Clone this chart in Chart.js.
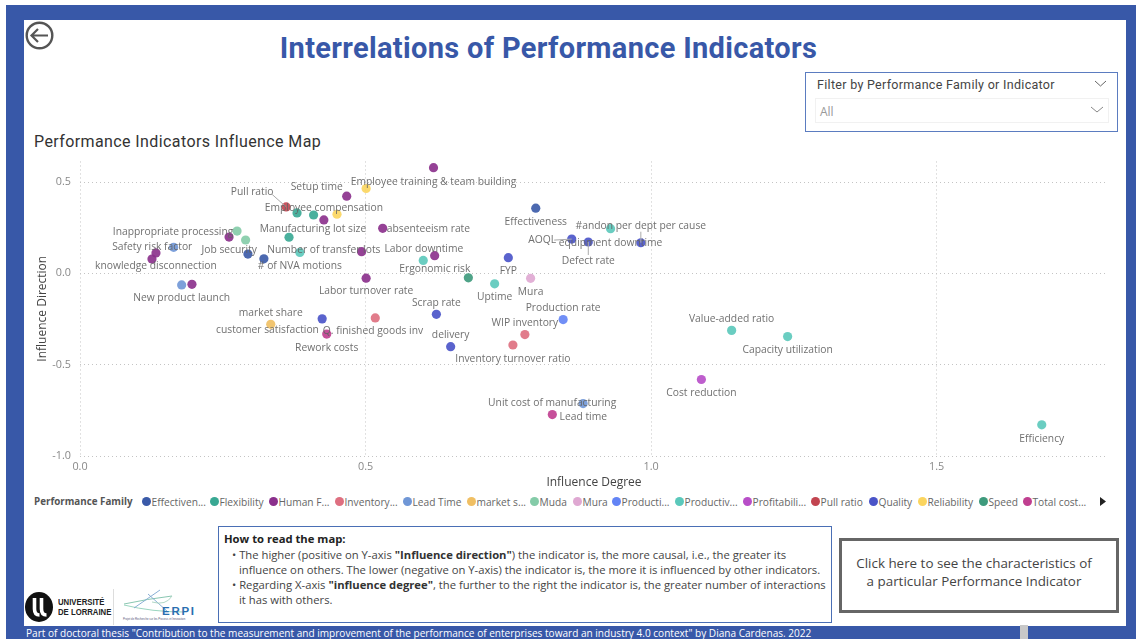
<!DOCTYPE html>
<html><head><meta charset="utf-8">
<script src="https://cdn.jsdelivr.net/npm/chart.js@4"></script>
<style>
html,body{margin:0;padding:0;background:#fff;overflow:hidden}
#page{position:relative;width:1136px;height:639px;overflow:hidden;font-family:"Open Sans",sans-serif}
.abs{position:absolute;white-space:nowrap}
#frame{left:6px;top:5px;width:1130px;height:634px;background:#3858a8}
#inner{left:24px;top:20px;width:1102px;height:606px;background:#fff}
#title{left:0;width:1097px;top:31px;text-align:center;font:700 29px Roboto,sans-serif;color:#3858a8;letter-spacing:.33px}
#sub{left:34px;top:132px;font:400 16px Roboto,sans-serif;color:#333;letter-spacing:.4px}
#filter{left:805px;top:72px;width:311px;height:58px;border:1px solid #5b7cc0}
#ftitle{left:817px;top:77px;font:400 12.5px Roboto,sans-serif;color:#444;letter-spacing:.3px}
#fin{left:815px;top:98px;width:292px;height:23px;border:1px solid #f1f1f1}
#fall{left:820px;top:103px;font:12px "Open Sans",sans-serif;color:#999}
#chartBox{left:24px;top:146px;width:1094px;height:345px}
#legendTitle{left:34px;top:495px;font:700 9.8px "Open Sans",sans-serif;color:#555}
.dot{position:absolute;width:9px;height:9px;border-radius:50%;top:497px}
.lt{position:absolute;top:495px;font:10.2px "Open Sans",sans-serif;color:#666;white-space:nowrap}
#how{left:218px;top:526px;width:612px;height:95px;border:1px solid #4a6fb5;box-sizing:content-box}
.hl{position:absolute;font:11.25px "Open Sans",sans-serif;color:#444;white-space:nowrap;line-height:15px}
.hl b{color:#333}
#click{left:839px;top:538px;width:264px;height:69px;border:3px solid #666;padding-right:10px;text-align:center;font:13.4px/18px "Open Sans",sans-serif;color:#444}
#foot{left:26px;top:626px;font:10.07px/14px "Open Sans",sans-serif;color:#fff}
#scroll{left:1020px;top:625px;width:8px;height:14px;background:#c8c8c8}
#ulsep{left:113px;top:589px;width:1px;height:36px;background:#ddd}
#ult{left:58px;top:598px;font:700 9px/9.5px "Liberation Sans",sans-serif;color:#222;transform:scaleX(.86);transform-origin:left top}
</style></head>
<body><div id="page">
<div class="abs" id="frame"></div><div class="abs" id="inner"></div>
<svg class="abs" style="left:24px;top:20px" width="32" height="32" viewBox="0 0 32 32"><circle cx="15.5" cy="15.5" r="12.8" fill="none" stroke="#555" stroke-width="2.4"/><path d="M24 15.5H8M14 9l-6.500 6.500L14 22" fill="none" stroke="#555" stroke-width="2.2"/></svg>
<div class="abs" id="title">Interrelations of Performance Indicators</div>
<div class="abs" id="filter"></div>
<div class="abs" id="ftitle">Filter by Performance Family or Indicator</div>
<div class="abs" id="fin"></div><div class="abs" id="fall">All</div>
<svg class="abs" style="left:1090px;top:78px" width="24" height="40"><path d="M5 3l5.500 5 5.500-5" fill="none" stroke="#666"/><path d="M1 29l6 5 6-5" fill="none" stroke="#888"/></svg>
<div class="abs" id="sub">Performance Indicators Influence Map</div>
<div class="abs" id="chartBox"><canvas id="c" width="1094" height="345"></canvas></div>
<div class="abs" id="legendTitle">Performance Family</div>
<div id="legend"></div>
<svg class="abs" style="left:1099px;top:497px" width="8" height="10"><path d="M1 0l6 4.500-6 4.500z" fill="#222"/></svg>
<div class="abs" id="how"></div>
<div class="hl" style="left:224px;top:531px"><b style="font-weight:700;color:#222">How to read the map:</b></div>
<div class="hl" style="left:232px;top:547px">• The higher (positive on Y-axis <b>"Influence direction"</b>) the indicator is, the more causal, i.e., the greater its</div>
<div class="hl" style="left:239px;top:562px">influence on others. The lower (negative on Y-axis) the indicator is, the more it is influenced by other indicators.</div>
<div class="hl" style="left:232px;top:577px">• Regarding X-axis <b>"influence degree"</b>, the further to the right the indicator is, the greater number of interactions</div>
<div class="hl" style="left:239px;top:592px">it has with others.</div>
<div class="abs" id="click"><div style="height:13px"></div>Click here to see the characteristics of<br>a particular Performance Indicator</div>
<svg class="abs" style="left:24px;top:590px" width="32" height="34"><ellipse cx="15" cy="17" rx="14" ry="15" fill="#111"/><path d="M10.500 8v11q0 6 5 6M17.500 8v11q0 6 5 6" fill="none" stroke="#fff" stroke-width="3.600"/></svg>
<div class="abs" id="ult">UNIVERSITÉ<br>DE LORRAINE</div>
<div class="abs" id="ulsep"></div>
<svg class="abs" style="left:122px;top:588px" width="76" height="34"><g fill="none" stroke-width=".9"><path d="M2 16Q25 11 50 8" stroke="#7cc0a8"/><path d="M2 17Q30 24 62 24" stroke="#8fd0b8"/><path d="M12 20L38 2" stroke="#7ca6cf"/><path d="M26 6L46 24" stroke="#7ca6cf"/><path d="M30 14Q44 18 50 8" stroke="#a8d2c0"/></g><text x="40" y="27" font-family="Liberation Sans" font-weight="700" font-size="11.500" fill="#2a6fb0" textLength="32">ERPI</text><text x="1" y="32" font-family="Liberation Sans" font-size="2.800" fill="#557">Projet de Recherche sur les Process et Innovation</text></svg>
<div class="abs" id="foot">Part of doctoral thesis "Contribution to the measurement and improvement of the performance of enterprises toward an industry 4.0 context" by Diana Cardenas. 2022</div>
<div class="abs" id="scroll"></div>
</div>
<script>
const families = ["Effectiveness","Flexibility","Human Factor","Inventory","Lead Time","market share","Muda","Mura","Production","Productivity","Profitability","Pull ratio","Quality","Reliability","Speed","Total cost"];
const familyLegendText = ["Effectiven...","Flexibility","Human F...","Inventory...","Lead Time","market s...","Muda","Mura","Producti...","Productiv...","Profitabili...","Pull ratio","Quality","Reliability","Speed","Total cost..."];
const familyColors = ["#3a5aa8","#38a893","#8a2f8c","#de6f80","#7097d6","#f0bf63","#84cba8","#dfa8d2","#6384f5","#5bc8bb","#b84ec8","#c24450","#4a54c8","#fbd55f","#3e9a7c","#c03f90"];
const legendDotCenters = [146,214,273,339,407,471,534,577,616,679,747,815,873,922,983,1027];

const indicators = ["Employee training & team building","","Setup time","Pull ratio","","","","Employee compensation","absenteeism rate","Manufacturing lot size","Inappropriate processing","","","Safety risk factor","","knowledge disconnection","Job security","# of NVA motions","Number of transfer lots","","Labor turnover rate","New product launch","","market share","customer satisfaction","Q. finished goods inv","Rework costs","Effectiveness","equipment downtime","#andon per dept per cause","Defect rate","AOQL","Labor downtime","","Ergonomic risk","FYP","Uptime","Mura","Scrap rate","Production rate","WIP inventory","delivery","Inventory turnover ratio","Value-added ratio","Capacity utilization","Cost reduction","Unit cost of manufacturing","Lead time","Efficiency"];
const indicatorFamily = ["Human Factor","Reliability","Human Factor","Pull ratio","Flexibility","Flexibility","Reliability","Human Factor","Human Factor","Flexibility","Muda","Human Factor","Muda","Human Factor","Lead Time","Human Factor","Effectiveness","Effectiveness","Productivity","Human Factor","Human Factor","Lead Time","Human Factor","market share","Quality","Inventory","Total cost","Effectiveness","Productivity","Quality","Quality","Quality","Human Factor","Productivity","Speed","Quality","Productivity","Mura","Quality","Production","Inventory","Quality","Inventory","Productivity","Productivity","Profitability","Lead Time","Total cost","Productivity"];
const influenceDegree = [.619,.501,.467,.361,.380,.409,.450,.427,.530,.366,.275,.261,.290,.133,.164,.126,.294,.322,.385,.493,.501,.178,.196,.334,.424,.517,.432,.798,.929,.982,.890,.861,.621,.601,.680,.750,.726,.789,.624,.846,.779,.649,.758,1.141,1.239,1.088,.881,.827,1.684];
const influenceDirection = [.579,.465,.423,.364,.331,.320,.324,.293,.247,.198,.232,.199,.183,.112,.143,.079,.106,.080,.115,.119,-.026,-.063,-.060,-.279,-.249,-.244,-.332,.357,.245,.168,.172,.188,.097,.071,-.024,.086,-.057,-.027,-.224,-.253,-.335,-.401,-.392,-.312,-.346,-.581,-.713,-.773,-.829];
const xTicks = [0,.5,1,1.5];
const yTicks = [.5,0,-.5,-1];

// label placement, in pixels from its point
const labelDx = [0,0,-30,-34,0,0,0,0,45.7,24,-64,0,0,-3.7,0,4,-18.7,36,24,0,0,0,0,0,-54.7,-2.3,0,0,0,0,0,-29.6,-10.8,0,-33.5,0,0,0,0,0,0,0,0,0,0,0,-31,31,0];
const labelDy = [14,0,-9,-14.5,0,0,0,-11.5,1.2,-8.6,.7,0,0,-6,0,7.3,-4,7.6,-2.3,0,13.3,13.6,0,-11.7,11.3,13.6,14,13.4,14,-17,19,1,-7,0,-8.4,13.6,13.3,14,-11.7,-11.7,-11.3,-11.700,13.6,-11.7,13.7,13.7,-1,2.7,14];
const leaderLabels = ["Pull ratio","AOQL","Defect rate","#andon per dept per cause"];

// legend
const lg = document.getElementById('legend');
families.forEach((f,i)=>{
  const d=document.createElement('div');d.className='dot';d.style.left=(legendDotCenters[i]-4.5)+'px';d.style.background=familyColors[i];lg.appendChild(d);
  const t=document.createElement('div');t.className='lt';t.style.left=(legendDotCenters[i]+5.5)+'px';t.textContent=familyLegendText[i];lg.appendChild(t);
});

const datasets = families.map((f,fi)=>{
  const data=[];
  indicators.forEach((n,i)=>{ if(indicatorFamily[i]===f) data.push({x:influenceDegree[i],y:influenceDirection[i]}); });
  return {label:f,data,pointStyle:'circle',pointRadius:4.6,pointHoverRadius:4.6,borderWidth:0,backgroundColor:familyColors[fi]+'e8',showLine:false};
});

const labelPlugin = {
  id:'pointLabels',
  afterDatasetsDraw(chart){
    const ctx=chart.ctx, X=chart.scales.x, Y=chart.scales.y;
    ctx.save();
    ctx.font='10.3px "Open Sans", sans-serif';ctx.textAlign='center';ctx.textBaseline='middle';
    indicators.forEach((n,i)=>{
      if(!n) return;
      const px=X.getPixelForValue(influenceDegree[i]),py=Y.getPixelForValue(influenceDirection[i]);
      const lx=px+labelDx[i],ly=py+labelDy[i];
      if(leaderLabels.includes(n)){
        ctx.strokeStyle='#aaa';ctx.lineWidth=1;ctx.beginPath();
        if(n==='AOQL'){ctx.moveTo(lx+12,ly);ctx.lineTo(px,py);}
        else if(n==='Pull ratio'){ctx.moveTo(lx+20,ly+2);ctx.lineTo(px,py);}
        else {ctx.moveTo(px,ly+(labelDy[i]>0?-6:6));ctx.lineTo(px,py);}
        ctx.stroke();
      }
      ctx.fillStyle='rgba(100,100,100,.92)';
      ctx.fillText(n,lx,ly);
    });
    ctx.restore();
  }
};

new Chart(document.getElementById('c'),{
  type:'scatter',
  data:{datasets},
  plugins:[labelPlugin],
  options:{
    responsive:false,animation:false,events:[],
    layout:{padding:{top:5,right:10,left:0,bottom:0}},
    plugins:{legend:{display:false},tooltip:{enabled:false},title:{display:false}},
    scales:{
      x:{type:'linear',min:0,max:1.8,
        afterFit(s){s.height=35;},
        afterBuildTicks(s){s.ticks=xTicks.map(v=>({value:v}));},
        border:{display:false,dash:[1,3]},
        grid:{color:'#c4c4c4',lineWidth:1,drawTicks:false},
        ticks:{color:'#888',font:{family:'"Open Sans"',size:10.8},padding:4,maxRotation:0,callback:v=>v.toFixed(1)},
        title:{display:true,text:'Influence Degree',color:'#444',font:{family:'"Open Sans"',size:12},padding:{top:3,bottom:1}}
      },
      y:{type:'linear',min:-1,max:.613,
        afterFit(s){s.width=56;},
        afterBuildTicks(s){s.ticks=yTicks.map(v=>({value:v}));},
        border:{display:false,dash:[1,3]},
        grid:{color:'#c4c4c4',lineWidth:1,drawTicks:false},
        ticks:{color:'#888',font:{family:'"Open Sans"',size:10.8},padding:9,callback:v=>v.toFixed(1)},
        title:{display:true,text:'Influence Direction',color:'#444',font:{family:'"Open Sans"',size:12},padding:{top:11,bottom:0}}
      }
    }
  }
});
</script>
</body></html>
